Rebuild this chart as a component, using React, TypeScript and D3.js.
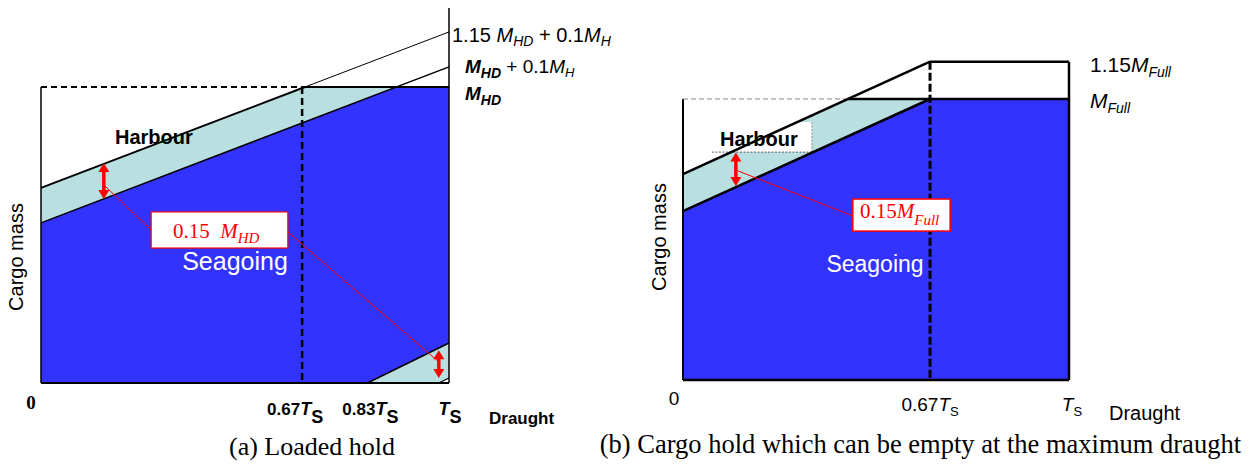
import React from "react";
import * as d3 from "d3";

// ---------- Panel (a): Loaded hold (x = draught / T_S as drawn, y = cargo mass / M_HD) ----------
const aBlueArea: [number, number][] = [[0, 0], [0, 0.541], [0.87, 1], [1, 1], [1, 0.135], [0.8, 0]];
const aHarbourBand: [number, number][] = [[0, 0.541], [0, 0.659], [0.647, 1], [0.87, 1]];
const aLowBand: [number, number][] = [[0.8, 0], [1, 0.135], [1, 0.017], [0.975, 0]];
const aHarbourLineLow: [number, number][] = [[0, 0.659], [0.647, 1]];
const aHarbourLineHigh: [number, number][] = [[0.647, 1], [1, 1.186]];
const aSeaLine: [number, number][] = [[0, 0.541], [1, 1.068]];
const aLowLine1: [number, number][] = [[0.8, 0], [1, 0.135]];
const aLowLine2: [number, number][] = [[0.975, 0], [1, 0.017]];
const aRefX = 0.64; // 0.67 T_S
const aFrameTop = 1.267;
const aTickValues = [0, 0.64, 0.8, 1];
const aTickNums = ["0", "0.67", "0.83", ""];
const aArrows = [
  { x: 0.154, y1: 0.743, y2: 0.622 },
  { x: 0.975, y1: 0.111, y2: 0.017 },
];
const aLeaders: [number, number][][] = [
  [[0.154, 0.669], [0.27, 0.517]],
  [[0.605, 0.51], [0.975, 0.071]],
];
const aNoteBox = { x0: 0.27, x1: 0.605, y0: 0.456, y1: 0.578 };

// ---------- Panel (b): Cargo hold which can be empty (y = cargo mass / M_Full) ----------
const bBlueArea: [number, number][] = [[0, 0], [0, 0.601], [0.64, 1], [1, 1], [1, 0]];
const bHarbourBand: [number, number][] = [[0, 0.601], [0, 0.733], [0.427, 1], [0.64, 1]];
const bUpperLine: [number, number][] = [[0, 0.733], [0.64, 1.133]];
const bLowerLine: [number, number][] = [[0, 0.601], [0.64, 1]];
const bGrayDash: [number, number][] = [[0, 1], [0.427, 1]];
const bFullLine: [number, number][] = [[0.427, 1], [1, 1]];
const bRefX = 0.64;
const bCapTop = 1.133;
const bTickValues = [0, 0.64, 1];
const bTickNums = ["0", "0.67", ""];
const bArrow = { x: 0.137, y1: 0.81, y2: 0.69 };
const bLeader: [number, number][] = [[0.137, 0.747], [0.44, 0.584]];
const bNoteBox = { x0: 0.44, x1: 0.692, y0: 0.53, y1: 0.644 };
const bHarbourBox = { x0: 0.075, x1: 0.334, y0: 0.811, y1: 0.918 };

const BLUE = "#3333ff";
const CYAN = "#b9dfe1";
const RED = "#ff0000";
const SANS = "'Liberation Sans', Arial, sans-serif";
const SERIF = "'Liberation Serif', 'Times New Roman', serif";

type Seg = { t: string; i?: boolean; b?: boolean; shift?: number; fs?: number };

function Rich(props: {
  x: number; y: number; segs: Seg[]; size: number; family?: string; fill?: string;
  anchor?: string; weight?: string; transform?: string;
}) {
  const { x, y, segs, size, family = SANS, fill = "#000", anchor = "start", weight = "normal", transform } = props;
  let cur = 0;
  return (
    <text x={x} y={y} fontFamily={family} fontSize={size} fill={fill} textAnchor={anchor}
      fontWeight={weight} transform={transform} style={{ whiteSpace: "pre" }}>
      {segs.map((s, k) => {
        const target = s.shift ?? 0;
        const dy = target - cur;
        cur = target;
        return (
          <tspan key={k} dy={dy} fontStyle={s.i ? "italic" : "normal"}
            fontWeight={s.b ? "bold" : weight} fontSize={s.fs ?? size}>{s.t}</tspan>
        );
      })}
    </text>
  );
}

function DoubleArrow({ x, ya, yb }: { x: number; ya: number; yb: number }) {
  const top = Math.min(ya, yb), bot = Math.max(ya, yb);
  const h = 9, w = 5.5;
  return (
    <g>
      <line x1={x} x2={x} y1={top + h - 1} y2={bot - h + 1} stroke={RED} strokeWidth={3.5} />
      <polygon points={`${x},${top} ${x - w},${top + h} ${x + w},${top + h}`} fill={RED} />
      <polygon points={`${x},${bot} ${x - w},${bot - h} ${x + w},${bot - h}`} fill={RED} />
    </g>
  );
}

export default function App() {
  const aX = d3.scaleLinear().domain([0, 1]).range([41, 449]);
  const aY = d3.scaleLinear().domain([0, 1]).range([383, 87]);
  const bX = d3.scaleLinear().domain([0, 1]).range([683, 1069]);
  const bY = d3.scaleLinear().domain([0, 1]).range([380, 99]);

  const aLine = d3.line<[number, number]>().x((d) => aX(d[0])).y((d) => aY(d[1]));
  const bLine = d3.line<[number, number]>().x((d) => bX(d[0])).y((d) => bY(d[1]));
  const aArea = (pts: [number, number][]) => aLine(pts) + "Z";
  const bArea = (pts: [number, number][]) => bLine(pts) + "Z";

  const aTickDx = [-10, -7, 3, 1];
  const bTickDx = [-9, 0, 3];

  return (
    <svg width={1250} height={464} style={{ position: "absolute", left: 0, top: 0, background: "#fff" }}>
      {/* ================= Panel (a) ================= */}
      <path d={aArea(aBlueArea)} fill={BLUE} />
      <path d={aArea(aHarbourBand)} fill={CYAN} />
      <path d={aArea(aLowBand)} fill={CYAN} />

      {/* frame */}
      <line x1={aX(0)} x2={aX(0)} y1={aY(1)} y2={aY(0)} stroke="#000" strokeWidth={1.5} />
      <line x1={aX(0)} x2={aX(1)} y1={aY(0)} y2={aY(0)} stroke="#000" strokeWidth={2} />
      <line x1={aX(1)} x2={aX(1)} y1={aY(aFrameTop)} y2={aY(0)} stroke="#000" strokeWidth={1.5} />
      <line x1={aX(0)} x2={aX(aRefX)} y1={aY(1)} y2={aY(1)} stroke="#000" strokeWidth={2} strokeDasharray="6,4" />
      <line x1={aX(aRefX)} x2={aX(1)} y1={aY(1)} y2={aY(1)} stroke="#000" strokeWidth={2} />

      <path d={aLine(aHarbourLineLow)!} stroke="#000" strokeWidth={2} fill="none" />
      <path d={aLine(aHarbourLineHigh)!} stroke="#000" strokeWidth={1} fill="none" />
      <path d={aLine(aSeaLine)!} stroke="#000" strokeWidth={1.5} fill="none" />
      <path d={aLine(aLowLine1)!} stroke="#000" strokeWidth={1.5} fill="none" />
      <path d={aLine(aLowLine2)!} stroke="#000" strokeWidth={1.2} fill="none" />
      <line x1={aX(aRefX)} x2={aX(aRefX)} y1={aY(1)} y2={aY(0)} stroke="#000" strokeWidth={2.5} strokeDasharray="7,4" />

      {/* right side labels */}
      <Rich x={452} y={42} size={20} segs={[
        { t: "1.15 " }, { t: "M", i: true }, { t: "HD", i: true, fs: 14, shift: 4 },
        { t: " + 0.1" }, { t: "M", i: true }, { t: "H", i: true, fs: 14, shift: 4 },
      ]} />
      <Rich x={465} y={73} size={19} segs={[
        { t: "M", i: true, b: true }, { t: "HD", i: true, b: true, fs: 14, shift: 5 },
        { t: " + 0.1" }, { t: "M", i: true }, { t: "H", i: true, fs: 13, shift: 4 },
      ]} />
      <Rich x={465} y={100} size={19} segs={[
        { t: "M", i: true, b: true }, { t: "HD", i: true, b: true, fs: 14, shift: 5 },
      ]} />

      {/* region labels */}
      <text x={115} y={144} fontFamily={SANS} fontSize={20} fontWeight="bold" fill="#000">Harbour</text>
      <text x={235} y={270} fontFamily={SANS} fontSize={25} fill="#fff" textAnchor="middle">Seagoing</text>
      <text transform="translate(23,257) rotate(-90)" fontFamily={SANS} fontSize={20} textAnchor="middle" fill="#000">Cargo mass</text>

      {/* annotations */}
      {aLeaders.map((seg, k) => (
        <path key={k} d={aLine(seg)!} stroke={RED} strokeWidth={1} fill="none" />
      ))}
      {aArrows.map((a, k) => (
        <DoubleArrow key={k} x={aX(a.x)} ya={aY(a.y1)} yb={aY(a.y2)} />
      ))}
      <rect x={aX(aNoteBox.x0)} y={aY(aNoteBox.y1)} width={aX(aNoteBox.x1) - aX(aNoteBox.x0)}
        height={aY(aNoteBox.y0) - aY(aNoteBox.y1)} fill="#fff" stroke={RED} strokeWidth={1.2} />
      <Rich x={173} y={238} size={21} family={SERIF} fill={RED} segs={[
        { t: "0.15  " }, { t: "M", i: true }, { t: "HD", i: true, fs: 15, shift: 5 },
      ]} />

      {/* x tick labels */}
      {aTickValues.map((v, k) => {
        const x = aX(v) + aTickDx[k];
        if (k === 0) {
          return <text key={k} x={x} y={409} fontFamily={SERIF} fontWeight="bold" fontSize={19} textAnchor="middle">0</text>;
        }
        return (
          <Rich key={k} x={x} y={415} size={17} weight="bold" anchor="middle" segs={[
            { t: aTickNums[k] }, { t: "T", i: true, fs: 18 }, { t: "S", fs: 18, shift: 8 },
          ]} />
        );
      })}
      <text x={489} y={424} fontFamily={SANS} fontWeight="bold" fontSize={17} fill="#000">Draught</text>
      <text x={312} y={455} fontFamily={SERIF} fontSize={26} textAnchor="middle" fill="#000">(a) Loaded hold</text>

      {/* ================= Panel (b) ================= */}
      <path d={bArea(bBlueArea)} fill={BLUE} />
      <path d={bArea(bHarbourBand)} fill={CYAN} />
      <rect x={bX(bHarbourBox.x0)} y={bY(bHarbourBox.y1)} width={bX(bHarbourBox.x1) - bX(bHarbourBox.x0)}
        height={bY(bHarbourBox.y0) - bY(bHarbourBox.y1)} fill="#fff" />
      <line x1={bX(bHarbourBox.x1)} x2={bX(bHarbourBox.x1)} y1={bY(bHarbourBox.y1)} y2={bY(bHarbourBox.y0)}
        stroke="#777" strokeWidth={0.8} strokeDasharray="2,1.5" />
      <line x1={bX(bHarbourBox.x0)} x2={bX(bHarbourBox.x1)} y1={bY(bHarbourBox.y0)} y2={bY(bHarbourBox.y0)}
        stroke="#333" strokeWidth={0.8} strokeDasharray="2,1.5" />

      {/* frame */}
      <line x1={bX(0)} x2={bX(0)} y1={bY(1)} y2={bY(0)} stroke="#000" strokeWidth={2} />
      <line x1={bX(0)} x2={bX(1)} y1={bY(0)} y2={bY(0)} stroke="#000" strokeWidth={2.5} />
      <line x1={bX(1)} x2={bX(1)} y1={bY(bCapTop)} y2={bY(0)} stroke="#000" strokeWidth={2.5} />
      <line x1={bX(bRefX)} x2={bX(1)} y1={bY(bCapTop)} y2={bY(bCapTop)} stroke="#000" strokeWidth={2.5} />
      <path d={bLine(bGrayDash)!} stroke="#888" strokeWidth={1.2} strokeDasharray="5,3" fill="none" />
      <path d={bLine(bFullLine)!} stroke="#000" strokeWidth={2.5} fill="none" />
      <path d={bLine(bUpperLine)!} stroke="#000" strokeWidth={2.5} fill="none" />
      <path d={bLine(bLowerLine)!} stroke="#000" strokeWidth={2.5} fill="none" />
      <line x1={bX(bRefX)} x2={bX(bRefX)} y1={bY(bCapTop)} y2={bY(0)} stroke="#000" strokeWidth={3} strokeDasharray="8,3" />

      <Rich x={1090} y={72} size={21} segs={[
        { t: "1.15" }, { t: "M", i: true }, { t: "Full", i: true, fs: 14, shift: 5 },
      ]} />
      <Rich x={1090} y={108} size={21} segs={[
        { t: "M", i: true }, { t: "Full", i: true, fs: 14, shift: 5 },
      ]} />

      <text x={720} y={146} fontFamily={SANS} fontSize={20} fontWeight="bold" fill="#000">Harbour</text>
      <text x={875} y={272} fontFamily={SANS} fontSize={23} fill="#fff" textAnchor="middle">Seagoing</text>
      <text transform="translate(666,237) rotate(-90)" fontFamily={SANS} fontSize={20} textAnchor="middle" fill="#000">Cargo mass</text>

      <path d={bLine(bLeader)!} stroke={RED} strokeWidth={1} fill="none" />
      <DoubleArrow x={bX(bArrow.x)} ya={bY(bArrow.y1)} yb={bY(bArrow.y2)} />
      <rect x={bX(bNoteBox.x0)} y={bY(bNoteBox.y1)} width={bX(bNoteBox.x1) - bX(bNoteBox.x0)}
        height={bY(bNoteBox.y0) - bY(bNoteBox.y1)} fill="#fff" stroke={RED} strokeWidth={1.5} />
      <Rich x={860} y={218} size={21} family={SERIF} fill={RED} segs={[
        { t: "0.15" }, { t: "M", i: true }, { t: "Full", i: true, fs: 15, shift: 7 },
      ]} />

      {bTickValues.map((v, k) => {
        const x = bX(v) + bTickDx[k];
        if (k === 0) {
          return <text key={k} x={x} y={405} fontFamily={SANS} fontSize={19} textAnchor="middle">0</text>;
        }
        return (
          <Rich key={k} x={x} y={411} size={19} anchor="middle" segs={[
            { t: bTickNums[k] }, { t: "T", i: true }, { t: "S", fs: 13, shift: 5 },
          ]} />
        );
      })}
      <text x={1109} y={420} fontFamily={SANS} fontSize={20} fill="#000">Draught</text>
      <text x={1241} y={453} fontFamily={SERIF} fontSize={26.5} textAnchor="end" fill="#000">(b) Cargo hold which can be empty at the maximum draught</text>
    </svg>
  );
}
